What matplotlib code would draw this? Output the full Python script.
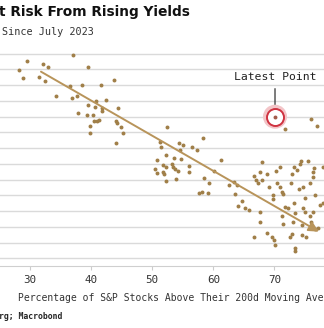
import matplotlib
matplotlib.use("Agg")
import matplotlib.pyplot as plt

# % of S&P stocks above 200d moving average vs. sensitivity to rising yields
pct_above_200d = [
    29.46, 28.25, 28.80, 37.04, 32.08, 32.90, 31.47, 32.46, 39.45, 43.75,
    36.55, 38.51, 41.57, 34.26, 36.88, 37.74, 39.54, 40.76, 40.69, 41.74,
    41.84, 42.49, 44.36, 37.91, 39.33, 40.27, 40.48, 40.92, 41.35, 44.08,
    44.19, 39.87, 44.85, 39.87, 45.27, 44.03, 52.38, 51.28, 51.45, 54.44,
    55.00, 56.47, 57.29, 54.56, 58.37, 71.75, 75.96, 77.04, 52.27,
    50.74, 53.58, 54.67, 61.22, 51.82, 52.27, 53.20, 53.36, 53.79, 54.18,
    56.08, 50.46, 50.74, 51.82, 51.99, 55.98, 60.12, 52.27, 53.90, 58.54,
    59.31, 62.63, 57.72, 58.11, 59.09, 68.03, 74.32, 74.20, 75.51, 73.27,
    73.66, 66.72, 67.00, 67.38, 67.66, 68.03, 68.75, 70.23, 70.93, 72.84,
    76.50, 76.38, 76.38, 77.92, 63.40, 63.84, 69.18, 70.39, 70.93, 71.21,
    71.47, 72.68, 74.04, 74.74, 75.84, 63.62, 64.66, 64.10, 65.20, 65.90,
    69.83, 69.83, 67.66, 67.66, 71.75, 72.29, 73.27, 75.02, 76.66, 77.48,
    78.02, 71.21, 74.74, 75.02, 76.38, 73.39, 75.84, 73.01, 74.48, 75.96,
    71.47, 72.84, 72.57, 74.48, 75.19, 68.85, 66.67, 69.57, 69.95, 70.11,
    73.39, 73.39, 76.66, 77.20,
]
rate_sensitivity = [
    12.55, 11.94, 11.45, 12.91, 12.32, 12.13, 11.49, 11.24, 12.13, 11.34,
    10.94, 11.00, 11.00, 10.32, 10.18, 10.32, 9.75, 9.97, 9.59, 9.52,
    9.37, 10.05, 9.54, 9.23, 9.12, 9.08, 8.70, 8.72, 8.76, 8.72,
    8.59, 8.38, 8.36, 7.94, 7.94, 7.34, 8.32, 7.40, 7.09, 7.34,
    7.19, 7.05, 6.88, 6.88, 7.66, 8.21, 8.86, 8.42, 6.56,
    6.24, 6.35, 6.30, 6.24, 5.92, 5.82, 5.99, 5.78, 5.67, 5.54,
    5.88, 5.65, 5.40, 5.46, 5.33, 5.48, 5.56, 4.91, 5.02, 5.08,
    4.76, 4.65, 4.13, 4.21, 4.13, 6.11, 6.16, 5.97, 6.18, 5.82,
    5.61, 5.24, 4.97, 4.76, 5.50, 4.97, 5.33, 5.54, 5.82, 5.33,
    5.71, 5.46, 5.14, 5.82, 4.86, 4.65, 4.55, 4.76, 4.55, 4.23,
    4.08, 4.80, 4.38, 4.55, 4.76, 4.06, 3.64, 3.32, 3.17, 3.07,
    4.02, 3.75, 2.96, 2.32, 3.28, 3.17, 3.53, 3.81, 4.02, 3.38,
    3.49, 2.69, 3.17, 2.96, 2.96, 2.86, 2.69, 2.32, 2.11, 2.32,
    2.18, 1.54, 1.37, 1.48, 1.33, 1.59, 1.37, 1.33, 1.16, 0.84,
    0.63, 0.48, 1.84, 1.90,
]
latest_x = 70.11
latest_y = 8.99
trend_x = [31.8, 77.3]
trend_y = [11.85, 1.69]
x_ticks = [30, 40, 50, 60, 70]

dot_color = "#a07f48"
line_color = "#b8945a"
mono = "DejaVu Sans Mono"

fig = plt.figure(figsize=(3.24, 3.28), dpi=100)
ax = fig.add_axes([0.0, 0.19, 1.0, 0.6755])

ax.set_xlim(25.09, 78.13)
ax.set_ylim(-0.47, 13.6)
ax.set_yticks(range(0, 14))
ax.yaxis.grid(True, color="#dadada", lw=1.0)
ax.set_axisbelow(True)
ax.tick_params(axis="y", left=False, labelleft=False)
ax.set_xticks(x_ticks)
ax.set_xticklabels([str(t) for t in x_ticks], fontfamily=mono, fontsize=7.8, color="#333333")
ax.tick_params(axis="x", length=3, color="#cccccc", pad=4)
for s in ["top", "left", "right"]:
    ax.spines[s].set_visible(False)
ax.spines["bottom"].set_color("#cfcfcf")

ax.scatter(pct_above_200d, rate_sensitivity, s=8, color=dot_color, zorder=3, linewidths=0)

ax.annotate("", xy=(trend_x[1], trend_y[1]), xytext=(trend_x[0], trend_y[0]),
            arrowprops=dict(arrowstyle="-|>,head_length=0.6,head_width=0.3",
                            color=line_color, lw=1.4, shrinkA=0, shrinkB=0), zorder=4)

# latest point highlight
ax.scatter([latest_x], [latest_y], s=190, facecolor="none", edgecolor="#f3c5c8", linewidths=3.5, zorder=4)
ax.scatter([latest_x], [latest_y], s=150, facecolor="white", edgecolor="#cf3341", linewidths=1.4, zorder=5)
ax.scatter([latest_x], [latest_y], s=8, color="#a35a4a", zorder=6, linewidths=0)
ax.annotate("Latest Point", xy=(latest_x, latest_y + 0.55), xytext=(latest_x, 11.53),
            ha="center", va="center", fontfamily=mono, fontsize=8.2, color="#222222",
            arrowprops=dict(arrowstyle="-", color="#333333", lw=0.9, shrinkA=3, shrinkB=0))

fig.text(-0.004, 0.963, "t Risk From Rising Yields", fontweight="bold", fontsize=9.9,
         ha="left", va="center", color="#111111")
fig.text(0.006, 0.902, "Since July 2023", fontfamily=mono, fontsize=7.3,
         ha="left", va="center", color="#333333")
fig.text(0.056, 0.0915, "Percentage of S&P Stocks Above Their 200d Moving Average",
         fontfamily=mono, fontsize=7.0, ha="left", va="center", color="#333333")
fig.text(-0.002, 0.034, "rg; Macrobond", fontfamily=mono, fontweight="bold", fontsize=5.9,
         ha="left", va="center", color="#222222")

fig.savefig("out.png", dpi=100)
